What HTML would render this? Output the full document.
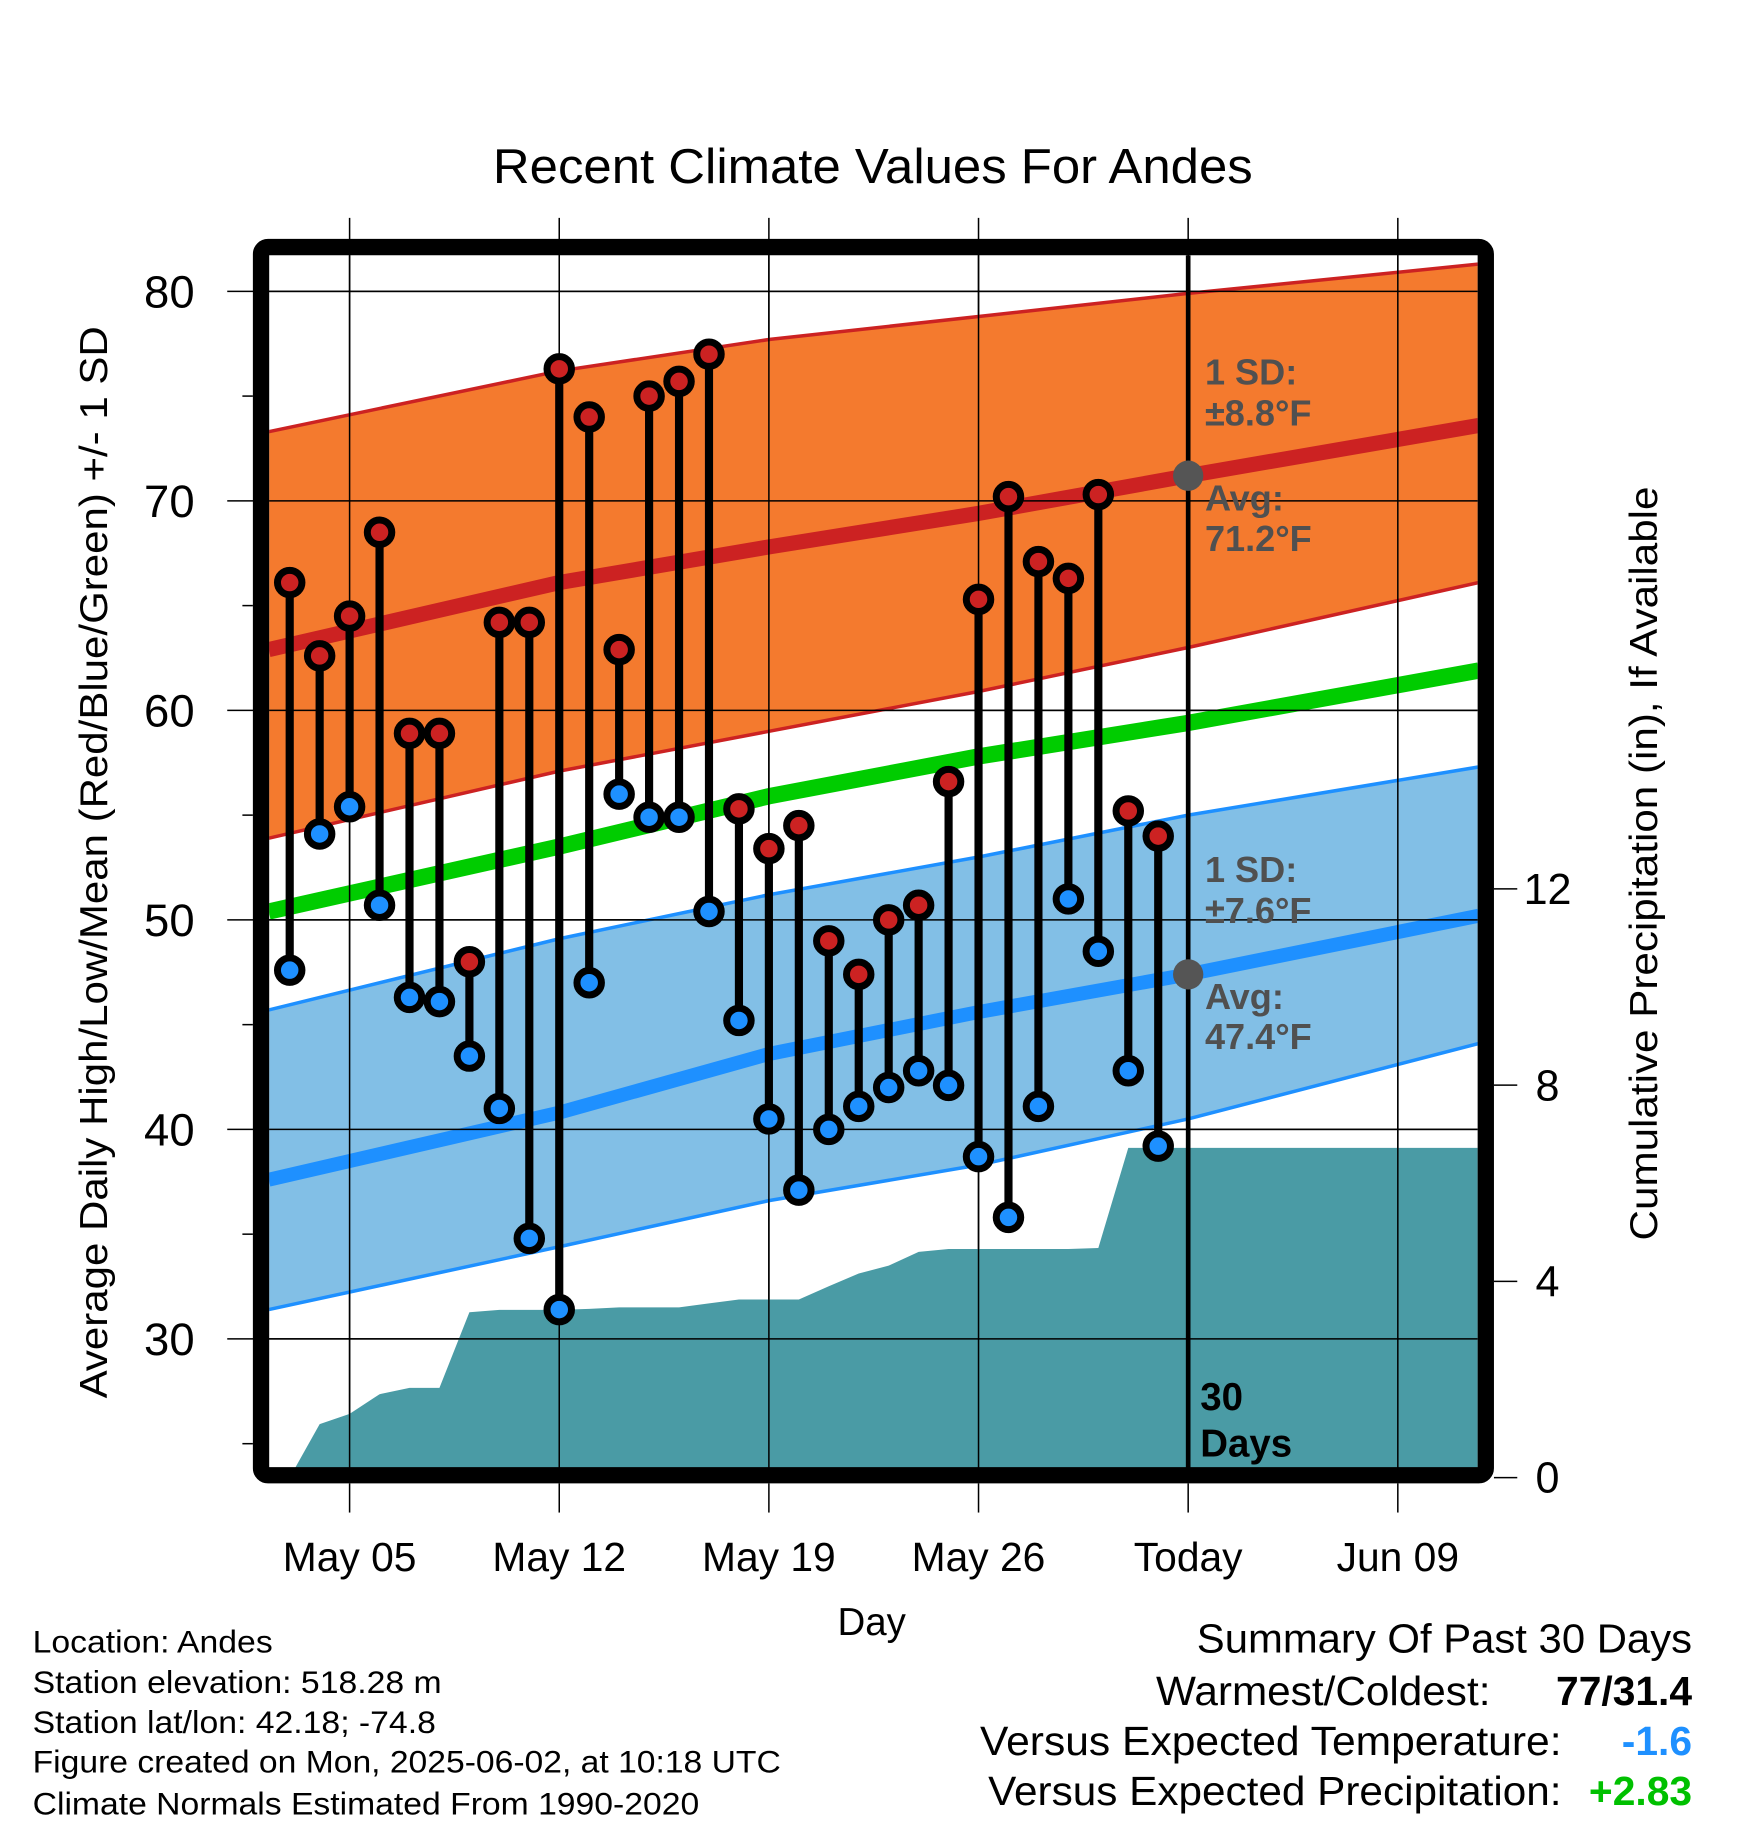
<!DOCTYPE html>
<html><head><meta charset="utf-8"><style>
html,body{margin:0;padding:0;background:#fff}
svg{display:block}
text{font-family:"Liberation Sans",sans-serif}
</style></head><body>
<svg id="chart" width="1748" height="1828" viewBox="0 0 1500 1568.7" preserveAspectRatio="none" xmlns="http://www.w3.org/2000/svg">
<defs><clipPath id="plotclip"><rect x="231" y="219" width="1037" height="1041"/></clipPath></defs>
<text x="749" y="157" font-size="42" text-anchor="middle" textLength="652" lengthAdjust="spacingAndGlyphs">Recent Climate Values For Andes</text>
<g id="grid"></g>
<g id="plot" clip-path="url(#plotclip)"></g>
<g id="marks"></g>
<rect x="224" y="212" width="1051" height="1054" rx="6" fill="none" stroke="#000" stroke-width="14"/>
<g id="axes"></g>
<text transform="translate(92,740) rotate(-90)" font-size="33" text-anchor="middle" textLength="920" lengthAdjust="spacingAndGlyphs">Average Daily High/Low/Mean (Red/Blue/Green) +/- 1 SD</text>
<text transform="translate(1422,741) rotate(-90)" font-size="33" text-anchor="middle" textLength="647" lengthAdjust="spacingAndGlyphs">Cumulative Precipitation (in), If Available</text>
<text x="748" y="1403" font-size="33" text-anchor="middle">Day</text>
<g font-size="27">
<text x="28" y="1418" textLength="206" lengthAdjust="spacingAndGlyphs">Location: Andes</text>
<text x="28" y="1453" textLength="351" lengthAdjust="spacingAndGlyphs">Station elevation: 518.28 m</text>
<text x="28" y="1487" textLength="346" lengthAdjust="spacingAndGlyphs">Station lat/lon: 42.18; -74.8</text>
<text x="28" y="1521" textLength="642" lengthAdjust="spacingAndGlyphs">Figure created on Mon, 2025-06-02, at 10:18 UTC</text>
<text x="28" y="1557" textLength="572" lengthAdjust="spacingAndGlyphs">Climate Normals Estimated From 1990-2020</text>
</g>
<g font-size="35">
<text x="1027" y="1418" textLength="425" lengthAdjust="spacingAndGlyphs">Summary Of Past 30 Days</text>
<text x="992" y="1463" textLength="287" lengthAdjust="spacingAndGlyphs">Warmest/Coldest:</text>
<text x="1452" y="1463" font-weight="bold" text-anchor="end">77/31.4</text>
<text x="841" y="1506" textLength="499" lengthAdjust="spacingAndGlyphs">Versus Expected Temperature:</text>
<text x="1452" y="1506" font-weight="bold" fill="#1e90ff" text-anchor="end">-1.6</text>
<text x="848" y="1549" textLength="492" lengthAdjust="spacingAndGlyphs">Versus Expected Precipitation:</text>
<text x="1452" y="1549" font-weight="bold" fill="#00c000" text-anchor="end">+2.83</text>
</g>
</svg>
<script>
const days = [3,4,5,6,7,8,9,10,11,12,13,14,15,16,17,18,19,20,21,22,23,24,25,26,27,28,29,30,31,32];
const highs = [66.1,62.6,64.5,68.5,58.9,58.9,48.0,64.2,64.2,76.3,74.0,62.9,75.0,75.7,77.0,55.3,53.4,54.5,49.0,47.4,50.0,50.7,56.6,65.3,70.2,67.1,66.3,70.3,55.2,54.0];
const lows = [47.6,54.1,55.4,50.7,46.3,46.1,43.5,41.0,34.8,31.4,47.0,56.0,54.9,54.9,50.4,45.2,40.5,37.1,40.0,41.1,42.0,42.8,42.1,38.7,35.8,41.1,51.0,48.5,42.8,39.2];
const precip = [0,1.09,1.3,1.7,1.83,1.83,3.37,3.42,3.42,3.42,3.44,3.47,3.47,3.47,3.55,3.63,3.63,3.63,3.9,4.16,4.32,4.6,4.66,4.66,4.66,4.66,4.66,4.68,6.72,6.72];
const normDays = [2.3,12,19,26,33,42.7];
const normHigh = [62.9,66.1,67.8,69.4,71.2,73.6];
const normHighUp = [73.3,76.2,77.7,78.8,79.9,81.3];
const normHighLo = [53.9,57.1,59.0,60.9,63.0,66.1];
const normMean = [50.4,53.5,55.9,57.8,59.4,61.9];
const normLow = [37.6,40.8,43.6,45.6,47.4,50.2];
const normLowUp = [45.7,49.1,51.2,53.0,55.0,57.3];
const normLowLo = [31.4,34.4,36.6,38.3,40.5,44.1];
const yTicks = [30,40,50,60,70,80];
const yMinor = [25,35,45,55,65,75];
const pTicks = [0,4,8,12];
const xTickDays = [5,12,19,26,33,40];
const xTickLabels = ["May 05","May 12","May 19","May 26","Today","Jun 09"];
const todayDay = 33;
const avgHighToday = 71.2, avgLowToday = 47.4;

const NS = "http://www.w3.org/2000/svg";
const X = d => 300 + (d - 5) * 25.7;
const Y = t => 250 + (80 - t) * 17.98;
const P = p => 1268 - p * 42.1;
function mk(parent, tag, attrs){const e=document.createElementNS(NS,tag);for(const k in attrs)e.setAttribute(k,attrs[k]);parent.appendChild(e);return e;}
const grid=document.getElementById('grid'), plot=document.getElementById('plot'), marks=document.getElementById('marks'), axes=document.getElementById('axes');

yTicks.forEach(t=>{const l=mk(grid,'line',{x1:195,x2:1268,y1:Y(t),y2:Y(t),stroke:'#000','stroke-width':1.3});


const tx=mk(axes,'text',{x:167,y:Y(t)+14,'font-size':39,'text-anchor':'end'});tx.textContent=t;

});
yMinor.forEach(t=>{const l=mk(axes,'line',{x1:208,x2:217,y1:Y(t),y2:Y(t),stroke:'#000','stroke-width':1.3});

});
xTickDays.forEach((d,i)=>{const l=mk(grid,'line',{x1:X(d),x2:X(d),y1:187,y2:1260,stroke:'#000','stroke-width':1.3});


const t2=mk(axes,'line',{x1:X(d),x2:X(d),y1:1273,y2:1298,stroke:'#000','stroke-width':1.3});


const tx=mk(axes,'text',{x:X(d),y:1348,'font-size':35,'text-anchor':'middle'});tx.textContent=xTickLabels[i];

});
pTicks.forEach(p=>{const l=mk(axes,'line',{x1:1282,x2:1302,y1:P(p),y2:P(p),stroke:'#000','stroke-width':1.3});


const tx=mk(axes,'text',{x:1328,y:P(p)+13,'font-size':37,'text-anchor':'middle'});tx.textContent=p;

});

function linePts(arr){return normDays.map((d,i)=>X(d)+','+Y(arr[i])).join(' ');}
function band(up,lo){return normDays.map((d,i)=>X(d)+','+Y(up[i])).concat(normDays.slice().reverse().map((d,j)=>X(d)+','+Y(lo[lo.length-1-j]))).join(' ');}
let pp=[X(days[0])+','+P(0)];
days.forEach((d,i)=>pp.push(X(d)+','+P(precip[i])));
pp.push(X(43)+','+P(precip[precip.length-1]));pp.push(X(43)+','+P(-1));pp.push(X(days[0])+','+P(-1));
let e;
e=mk(plot,'polygon',{points:band(normHighUp,normHighLo),fill:'#f47a2e'});


e=mk(plot,'polyline',{points:linePts(normHighUp),fill:'none',stroke:'#cc2222','stroke-width':3});


e=mk(plot,'polyline',{points:linePts(normHighLo),fill:'none',stroke:'#cc2222','stroke-width':3});


e=mk(plot,'polygon',{points:band(normLowUp,normLowLo),fill:'#82bfe6'});


e=mk(plot,'polyline',{points:linePts(normLowUp),fill:'none',stroke:'#1e90ff','stroke-width':3});


e=mk(plot,'polyline',{points:linePts(normLowLo),fill:'none',stroke:'#1e90ff','stroke-width':3});


e=mk(plot,'polygon',{points:pp.join(' '),fill:'#4a9ba5'});


e=mk(plot,'polyline',{points:linePts(normHigh),fill:'none',stroke:'#cc2222','stroke-width':13});


e=mk(plot,'polyline',{points:linePts(normMean),fill:'none',stroke:'#00cc00','stroke-width':14});


e=mk(plot,'polyline',{points:linePts(normLow),fill:'none',stroke:'#1e90ff','stroke-width':12});


yTicks.forEach(t=>{const l=mk(plot,'line',{x1:231,x2:1268,y1:Y(t),y2:Y(t),stroke:'#000','stroke-width':1.3});

});
xTickDays.forEach(d=>{const l=mk(plot,'line',{x1:X(d),x2:X(d),y1:219,y2:1260,stroke:'#000','stroke-width':1.3});

});
e=mk(plot,'line',{x1:X(todayDay),x2:X(todayDay),y1:219,y2:1260,stroke:'#000','stroke-width':4});


[avgHighToday,avgLowToday].forEach(v=>{const c=mk(plot,'circle',{cx:X(todayDay),cy:Y(v),r:13,fill:'#555'});

});
const ann=[["1 SD:",330],["±8.8°F",365],["Avg:",438],["71.2°F",473],["1 SD:",757],["±7.6°F",792],["Avg:",866],["47.4°F",900]];
ann.forEach(a=>{const t=mk(plot,'text',{x:1034,y:a[1],'font-size':31,'font-weight':'bold',fill:'#505050'});t.textContent=a[0];

});
[["30",1210],["Days",1250]].forEach(a=>{const t=mk(plot,'text',{x:1030,y:a[1],'font-size':33,'font-weight':'bold',fill:'#000'});t.textContent=a[0];

});
days.forEach((d,i)=>{
 const s=mk(marks,'line',{x1:X(d),x2:X(d),y1:Y(highs[i]),y2:Y(lows[i]),stroke:'#000','stroke-width':7});
 
 
 const h=mk(marks,'circle',{cx:X(d),cy:Y(highs[i]),r:10.5,fill:'#cc2222',stroke:'#000','stroke-width':6});
 
 
 const l=mk(marks,'circle',{cx:X(d),cy:Y(lows[i]),r:10.5,fill:'#1e90ff',stroke:'#000','stroke-width':6});
 
 
});
</script>
</body></html>
